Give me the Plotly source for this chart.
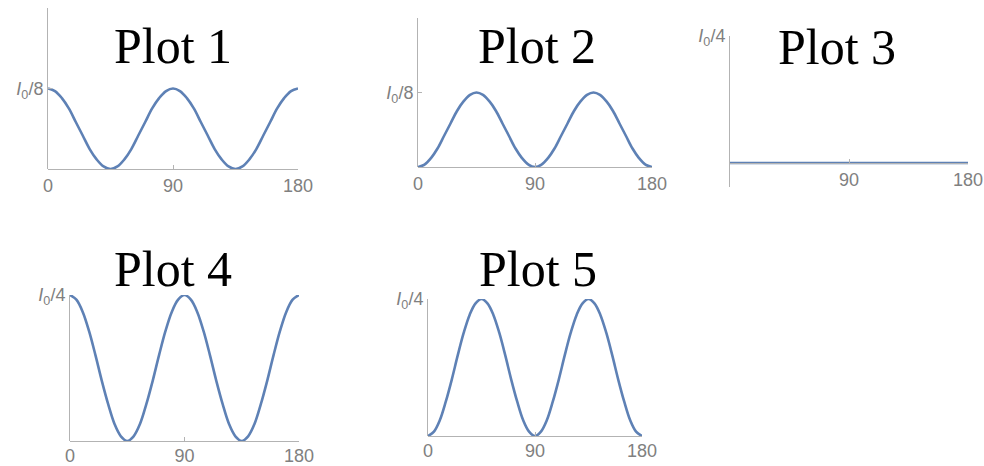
import plotly.graph_objects as go

W, H = 984, 466

# angle in degrees, sampled every 5 degrees
theta = list(range(0, 181, 5))

# intensities in units of I0
plot1 = [0.125, 0.121, 0.110, 0.094, 0.073, 0.052, 0.031, 0.015, 0.004, 0.0,
         0.004, 0.015, 0.031, 0.052, 0.073, 0.094, 0.110, 0.121, 0.125,
         0.121, 0.110, 0.094, 0.073, 0.052, 0.031, 0.015, 0.004, 0.0,
         0.004, 0.015, 0.031, 0.052, 0.073, 0.094, 0.110, 0.121, 0.125]
plot2 = [0.0, 0.004, 0.015, 0.031, 0.052, 0.073, 0.094, 0.110, 0.121, 0.125,
         0.121, 0.110, 0.094, 0.073, 0.052, 0.031, 0.015, 0.004, 0.0,
         0.004, 0.015, 0.031, 0.052, 0.073, 0.094, 0.110, 0.121, 0.125,
         0.121, 0.110, 0.094, 0.073, 0.052, 0.031, 0.015, 0.004, 0.0]
plot3 = [0.0] * 37
plot4 = [0.25, 0.242, 0.221, 0.188, 0.147, 0.103, 0.063, 0.029, 0.008, 0.0,
         0.008, 0.029, 0.063, 0.103, 0.147, 0.188, 0.221, 0.242, 0.25,
         0.242, 0.221, 0.188, 0.147, 0.103, 0.063, 0.029, 0.008, 0.0,
         0.008, 0.029, 0.063, 0.103, 0.147, 0.188, 0.221, 0.242, 0.25]
plot5 = [0.0, 0.008, 0.029, 0.063, 0.103, 0.147, 0.188, 0.221, 0.242, 0.25,
         0.242, 0.221, 0.188, 0.147, 0.103, 0.063, 0.029, 0.008, 0.0,
         0.008, 0.029, 0.063, 0.103, 0.147, 0.188, 0.221, 0.242, 0.25,
         0.242, 0.221, 0.188, 0.147, 0.103, 0.063, 0.029, 0.008, 0.0]

titles = ["Plot 1", "Plot 2", "Plot 3", "Plot 4", "Plot 5"]
series = [plot1, plot2, plot3, plot4, plot5]
y_tick_vals = [0.125, 0.125, 0.25, 0.25, 0.25]
y_tick_text = ["<i>I</i><sub>0</sub>/8", "<i>I</i><sub>0</sub>/8",
               "<i>I</i><sub>0</sub>/4", "<i>I</i><sub>0</sub>/4",
               "<i>I</i><sub>0</sub>/4"]

# pixel boxes: x of 0deg, x of 180deg, y of zero, y of 0.25, y of axis bottom
boxes = [
    (48, 298, 169, 8, 169),
    (418, 652, 167, 18, 167),
    (730, 968, 163, 36, 187),
    (70, 299, 441, 295, 441),
    (428, 642, 436, 299, 436),
]
title_pos = [(173, 46), (537, 46), (837, 47), (173, 269), (538, 269)]

LINE = "#5E81B5"
AXIS = "#b3b3b3"
TICKFONT = dict(family="Liberation Sans", size=18, color="#808080")

fig = go.Figure()
layout = dict(width=W, height=H, margin=dict(l=0, r=0, t=0, b=0),
              template="none", paper_bgcolor="white", plot_bgcolor="white",
              showlegend=False)

for i, (ys, box) in enumerate(zip(series, boxes)):
    n = "" if i == 0 else str(i + 1)
    x0, x1, yz, yt, yb = box
    per_px = 0.25 / (yz - yt)
    ymin = -(yb - yz) * per_px
    fig.add_trace(go.Scatter(x=theta, y=ys, mode="lines", line_shape="spline",
                             line=dict(color=LINE, width=2.6),
                             xaxis="x" + n, yaxis="y" + n, cliponaxis=False))
    xticks = [90, 180] if i == 2 else [0, 90, 180]
    xa = dict(domain=[x0 / W, x1 / W], range=[0, 180], showline=True,
              linecolor=AXIS, linewidth=1, showgrid=False, zeroline=False,
              ticks="inside", ticklen=4, tickcolor=AXIS, tickvals=xticks,
              ticktext=[str(v) for v in xticks], tickfont=TICKFONT,
              anchor="free", position=1 - yz / H, fixedrange=True,
              automargin=False, ticklabelstandoff=-2 if i >= 3 else 0)
    ya = dict(domain=[1 - yb / H, 1 - yt / H], range=[ymin, 0.25],
              showline=True, linecolor=AXIS, linewidth=1, showgrid=False,
              zeroline=False, ticks="inside", ticklen=4, tickcolor=AXIS,
              tickvals=[y_tick_vals[i]], ticktext=[y_tick_text[i]],
              tickfont=TICKFONT, anchor="x" + n, fixedrange=True,
              automargin=False)
    layout["xaxis" + n] = xa
    layout["yaxis" + n] = ya

annotations = []
for t, (cx, cy) in zip(titles, title_pos):
    annotations.append(dict(text=t, x=cx / W, y=1 - cy / H, xref="paper",
                            yref="paper", showarrow=False, xanchor="center",
                            yanchor="middle",
                            font=dict(family="Liberation Serif",
                                      size=50, color="black")))
layout["annotations"] = annotations

fig.update_layout(**layout)
# the page body has an 8px default margin; drop it so the figure sits at 0,0
fig.write_html("out.html", config={"displayModeBar": False},
               post_script="document.body.style.margin='0';")
